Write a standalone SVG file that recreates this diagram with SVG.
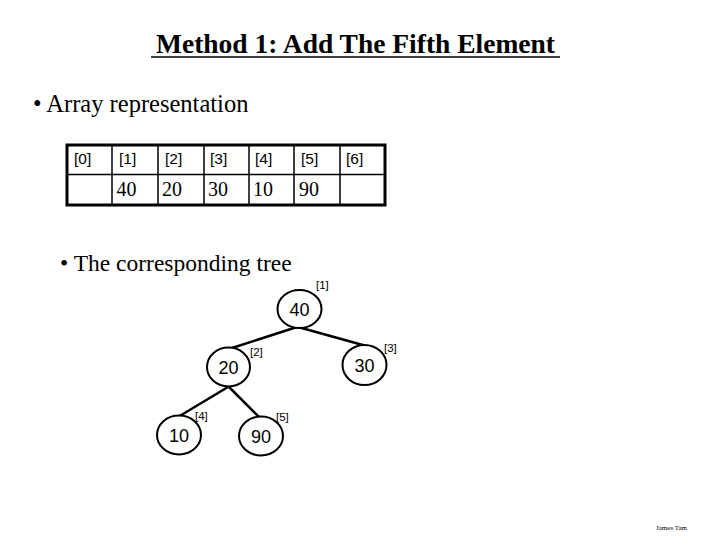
<svg xmlns="http://www.w3.org/2000/svg" width="720" height="540" viewBox="0 0 720 540">
<style>
.serif{font-family:"Liberation Serif","Times New Roman",serif;fill:#000}
.idx{font-family:"Liberation Sans",Arial,sans-serif;font-size:15.5px;fill:#000}
.val{font-family:"Liberation Serif","Times New Roman",serif;font-size:20px;fill:#000}
.node ellipse{fill:#fff;stroke:#000;stroke-width:2}
.node text.v{font-family:"Liberation Sans",Arial,sans-serif;font-size:18px;text-anchor:middle;fill:#000}
.node text.lbl{font-family:"Liberation Sans",Arial,sans-serif;font-size:11.5px;fill:#000}
.edge{stroke:#000;stroke-width:2.5;fill:none}
</style>
<rect width="720" height="540" fill="#fff"/>
<text class="serif" x="355.5" y="53" font-size="27.5" font-weight="bold" text-anchor="middle">Method 1: Add The Fifth Element</text>
<line x1="151" y1="57" x2="560" y2="57" stroke="#000" stroke-width="1.5"/>
<text class="serif" x="33" y="112" font-size="24.5">• Array representation</text>
<g id="array">
<rect x="67" y="145" width="318" height="60" fill="#fff" stroke="#000" stroke-width="3"/>
<line x1="67" y1="174.5" x2="385" y2="174.5" stroke="#000" stroke-width="1.5"/>
<g stroke="#000" stroke-width="1.5">
<line x1="112" y1="145" x2="112" y2="205"/>
<line x1="158" y1="145" x2="158" y2="205"/>
<line x1="204" y1="145" x2="204" y2="205"/>
<line x1="249" y1="145" x2="249" y2="205"/>
<line x1="294" y1="145" x2="294" y2="205"/>
<line x1="340" y1="145" x2="340" y2="205"/>
</g>
<text class="idx" x="74" y="164">[0]</text>
<text class="idx" x="119" y="164">[1]</text>
<text class="idx" x="165" y="164">[2]</text>
<text class="idx" x="210" y="164">[3]</text>
<text class="idx" x="255" y="164">[4]</text>
<text class="idx" x="301" y="164">[5]</text>
<text class="idx" x="346" y="164">[6]</text>
<text class="val" x="116.5" y="196">40</text>
<text class="val" x="162" y="196">20</text>
<text class="val" x="208" y="196">30</text>
<text class="val" x="253" y="196">10</text>
<text class="val" x="299" y="196">90</text>
</g>
<text class="serif" x="60" y="271" font-size="23.5">• The corresponding tree</text>
<g id="connectors">
<line class="edge" x1="297" y1="327" x2="232" y2="348"/>
<line class="edge" x1="298" y1="327" x2="370" y2="347"/>
<line class="edge" x1="228" y1="387" x2="178" y2="417"/>
<line class="edge" x1="229" y1="387" x2="260" y2="418"/>
</g>
<g id="n1" class="node"><ellipse cx="299.5" cy="309" rx="22" ry="19"/><text class="v" x="299.5" y="315.5">40</text><text class="lbl" x="316" y="289">[1]</text></g>
<g id="n2" class="node"><ellipse cx="228.5" cy="367" rx="21.5" ry="19.5"/><text class="v" x="228.5" y="374">20</text><text class="lbl" x="250" y="356">[2]</text></g>
<g id="n3" class="node"><ellipse cx="364.5" cy="365" rx="22" ry="20"/><text class="v" x="364.5" y="372">30</text><text class="lbl" x="384" y="352">[3]</text></g>
<g id="n4" class="node"><ellipse cx="179" cy="435" rx="22" ry="19.5"/><text class="v" x="179" y="442">10</text><text class="lbl" x="195" y="420">[4]</text></g>
<g id="n5" class="node"><ellipse cx="261" cy="436" rx="22" ry="19.5"/><text class="v" x="261" y="443">90</text><text class="lbl" x="276" y="421">[5]</text></g>
<text class="serif" x="656" y="530" font-size="7">James Tam</text>
</svg>
